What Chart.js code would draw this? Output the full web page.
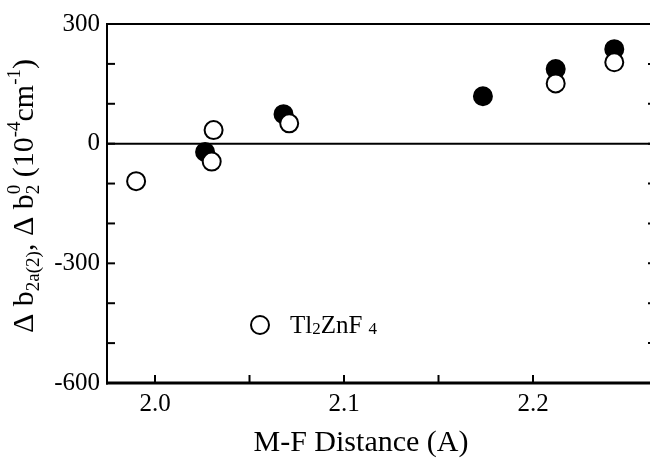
<!DOCTYPE html>
<html>
<head>
<meta charset="utf-8">
<script src="https://cdn.jsdelivr.net/npm/chart.js@4.4.1/dist/chart.umd.min.js"></script>
<style>
  html, body { margin: 0; padding: 0; background: #fff; }
</style>
</head>
<body>
<canvas id="chart" width="650" height="461"></canvas>
<script>
// Data definitions
const openX = [1.990, 2.030, 2.031, 2.071, 2.212, 2.243];
const openY = [-94, -45, 34, 51, 151, 204];
const filledX = [2.0265, 2.068, 2.1735, 2.212, 2.243];
const filledY = [-21, 74, 119, 187, 237];

const xTickValues = [2.0, 2.05, 2.1, 2.15, 2.2];
const xTickLabels = ['2.0', '', '2.1', '', '2.2'];
const yTickValues = [300, 200, 100, 0, -100, -200, -300, -400, -500, -600];
const yTickLabels = ['300', '', '', '0', '', '', '-300', '', '', '-600'];
const legendLabel = ['Tl', '2', 'ZnF', '4'];
const xTitle = 'M-F Distance (A)';

const serif = '"Liberation Serif", "Times New Roman", serif';

function toPoints(xs, ys) {
  return xs.map((v, i) => ({ x: v, y: ys[i] }));
}

function strokeLine(ctx, x1, y1, x2, y2, w) {
  ctx.lineWidth = w;
  ctx.beginPath();
  ctx.moveTo(x1, y1);
  ctx.lineTo(x2, y2);
  ctx.stroke();
}

// frame, zero line, inward ticks, axis titles and the legend
const framePlugin = {
  id: 'frame',
  beforeDatasetsDraw(chart) {
    const { ctx, chartArea: a, scales: { x, y } } = chart;
    ctx.save();
    ctx.strokeStyle = '#000';
    strokeLine(ctx, a.left, a.top - 1, a.left, a.bottom + 1.5, 2);
    strokeLine(ctx, a.left, a.top, a.right, a.top, 2);
    strokeLine(ctx, a.left - 1, a.bottom, a.right, a.bottom, 3);
    const y0 = y.getPixelForValue(0);
    strokeLine(ctx, a.left, y0, a.right, y0, 2);
    yTickValues.forEach(v => {
      const py = y.getPixelForValue(v);
      strokeLine(ctx, a.left, py, a.left + 8, py, 2);
      strokeLine(ctx, a.right - 2, py, a.right, py, 2);
    });
    xTickValues.forEach(v => {
      const px = x.getPixelForValue(v);
      strokeLine(ctx, px, a.bottom, px, a.bottom - 8, 2);
    });
    ctx.restore();
  },
  afterDraw(chart) {
    const ctx = chart.ctx;
    ctx.save();
    ctx.fillStyle = '#000';

    // x axis title
    ctx.font = '30px ' + serif;
    ctx.textAlign = 'center';
    ctx.textBaseline = 'alphabetic';
    ctx.fillText(xTitle, 361, 451);
    ctx.textAlign = 'left';

    // rotated y axis title with sub/superscripts
    const main = '30px ' + serif;
    const small = '19px ' + serif;
    const parts = [
      { t: '\u0394 b', f: main, dy: 0 },
      { t: '2a(2)', f: small, dy: 6 },
      { t: ', \u0394 b', f: main, dy: 0 },
      { t: '2', f: small, dy: 6, stack: true },
      { t: '0', f: small, dy: -13 },
      { t: ' (10', f: main, dy: 0 },
      { t: '-4', f: small, dy: -13 },
      { t: 'cm', f: main, dy: 0 },
      { t: '-1', f: small, dy: -13 },
      { t: ')', f: main, dy: 0 }
    ];
    ctx.translate(33, 333);
    ctx.rotate(-Math.PI / 2);
    let pos = 0;
    let held = 0;
    parts.forEach(p => {
      ctx.font = p.f;
      ctx.fillText(p.t, pos, p.dy);
      const w = ctx.measureText(p.t).width;
      if (p.stack) {
        held = w;
      } else {
        pos += Math.max(w, held);
        held = 0;
      }
    });
    ctx.restore();

    // legend
    ctx.save();
    ctx.strokeStyle = '#000';
    ctx.fillStyle = '#fff';
    ctx.lineWidth = 2;
    ctx.beginPath();
    ctx.arc(260, 325, 9, 0, Math.PI * 2);
    ctx.fill();
    ctx.stroke();
    ctx.fillStyle = '#000';
    let lx = 290;
    const big = '25px ' + serif;
    const little = '17px ' + serif;
    ctx.font = big;
    ctx.fillText(legendLabel[0], lx, 333);
    lx += ctx.measureText(legendLabel[0]).width;
    ctx.font = little;
    ctx.fillText(legendLabel[1], lx, 334);
    lx += ctx.measureText(legendLabel[1]).width;
    ctx.font = big;
    ctx.fillText(legendLabel[2], lx, 333);
    lx += ctx.measureText(legendLabel[2]).width + 6;
    ctx.font = little;
    ctx.fillText(legendLabel[3], lx, 334);
    ctx.restore();
  }
};

const chart = new Chart(document.getElementById('chart').getContext('2d'), {
  type: 'scatter',
  data: {
    datasets: [
      {
        label: 'open',
        data: toPoints(openX, openY),
        backgroundColor: '#fff',
        borderColor: '#000',
        borderWidth: 2,
        pointRadius: 9,
        order: 0
      },
      {
        label: 'filled',
        data: toPoints(filledX, filledY),
        backgroundColor: '#000',
        borderColor: '#000',
        borderWidth: 2,
        pointRadius: 9,
        order: 1
      }
    ]
  },
  options: {
    responsive: false,
    animation: false,
    layout: { autoPadding: false, padding: { top: 24, right: 0, left: 0, bottom: 0 } },
    plugins: {
      legend: { display: false },
      tooltip: { enabled: false }
    },
    scales: {
      x: {
        type: 'linear',
        min: 1.9746,
        max: 2.2619,
        afterBuildTicks: scale => { scale.ticks = xTickValues.map(v => ({ value: v })); },
        afterFit: scale => {
          scale.height = 78;
          scale.paddingLeft = 0;
          scale.paddingRight = 0;
        },
        grid: { display: false, drawTicks: false },
        border: { display: false },
        ticks: {
          color: '#000',
          padding: 6,
          maxRotation: 0,
          autoSkip: false,
          font: { family: serif, size: 25 },
          callback: (v, i) => xTickLabels[i]
        }
      },
      y: {
        type: 'linear',
        min: -600,
        max: 300,
        afterBuildTicks: scale => { scale.ticks = yTickValues.map(v => ({ value: v })); },
        afterFit: scale => {
          scale.width = 107;
          scale.paddingTop = 0;
          scale.paddingBottom = 0;
        },
        grid: { display: false, drawTicks: false },
        border: { display: false },
        ticks: {
          color: '#000',
          padding: 7,
          autoSkip: false,
          font: { family: serif, size: 25 },
          callback: (v, i) => yTickLabels[i]
        }
      }
    }
  },
  plugins: [framePlugin]
});
</script>
</body>
</html>
